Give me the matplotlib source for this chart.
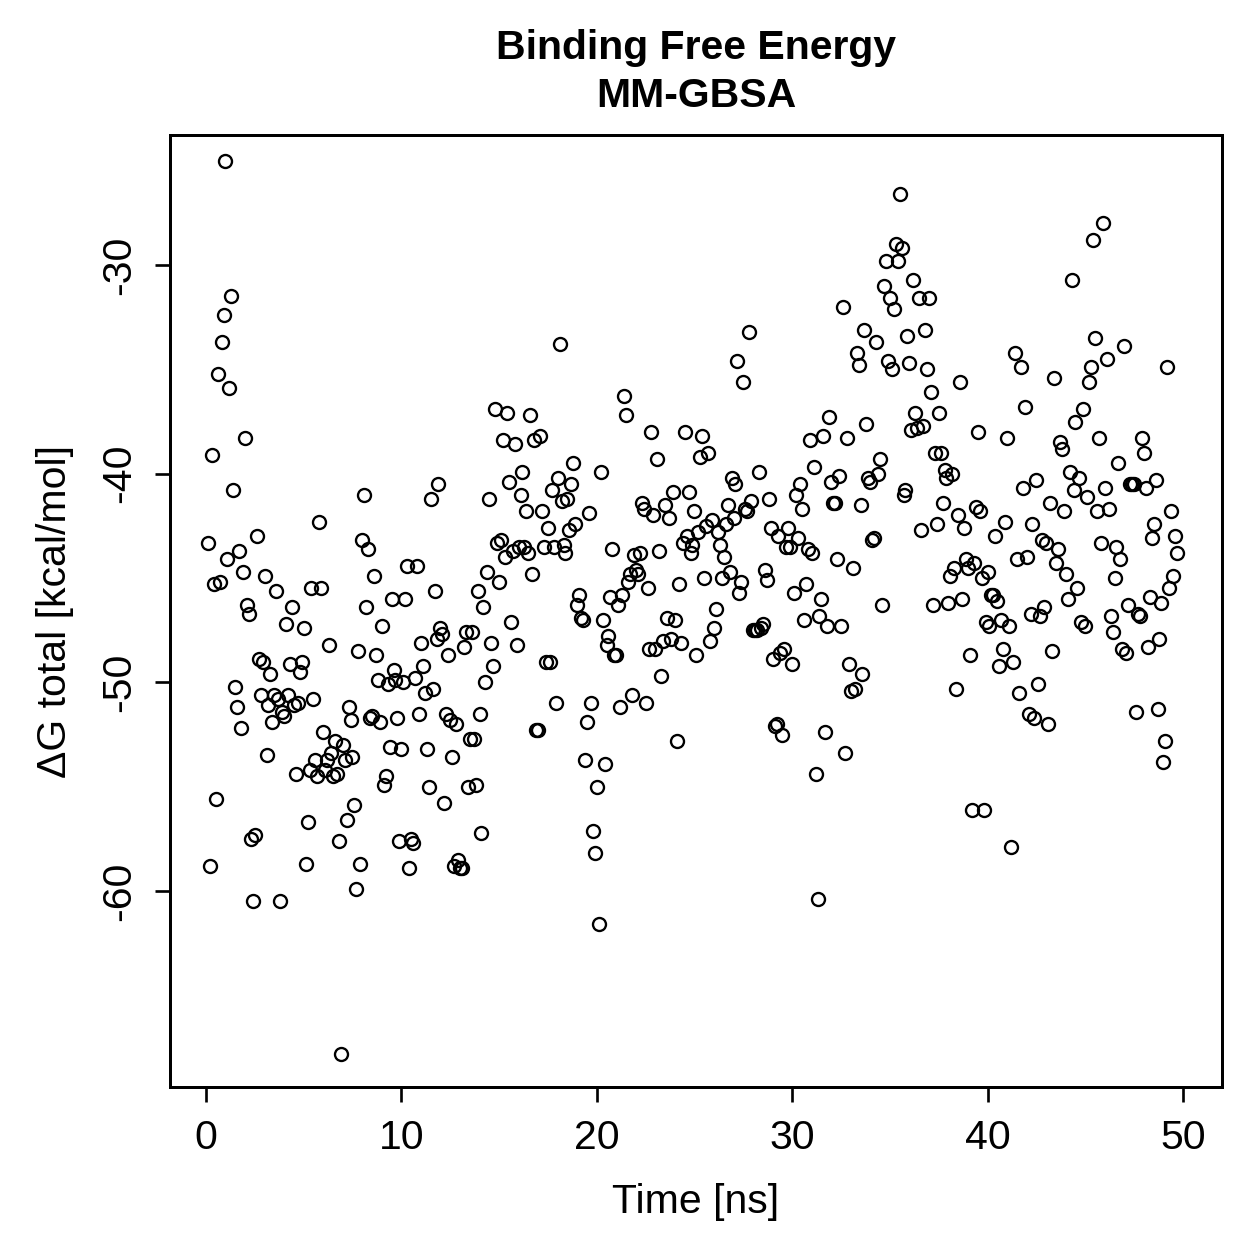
import numpy as np
import matplotlib
matplotlib.use('Agg')
import matplotlib.pyplot as plt

# MM-GBSA total binding free energy per frame (kcal/mol), frames every 0.1 ns
dG = [
    -43.3, -58.8, -39.1, -45.3, -55.6, -35.2, -45.2, -33.7, -32.4, -25.0,
    -44.1, -35.9, -31.5, -40.8, -50.2, -51.2, -43.7, -52.2, -44.7, -38.3,
    -46.3, -46.7, -57.5, -60.5, -57.3, -43.0, -48.9, -50.6, -49.0, -44.9,
    -53.5, -51.1, -49.6, -51.9, -50.6, -45.6, -50.8, -60.5, -51.4, -51.6,
    -47.2, -50.6, -49.1, -46.4, -51.1, -54.4, -51.0, -49.5, -49.0, -47.4,
    -58.7, -56.7, -54.2, -45.5, -50.8, -53.7, -54.5, -42.3, -45.5, -52.4,
    -54.2, -53.7, -48.2, -53.4, -54.5, -52.8, -54.4, -57.6, -67.8, -53.0,
    -53.7, -56.6, -51.2, -51.8, -53.6, -55.9, -59.9, -48.5, -58.7, -43.2,
    -41.0, -46.4, -43.6, -51.7, -51.6, -44.9, -48.7, -49.9, -51.9, -47.3,
    -54.9, -54.5, -50.1, -53.1, -46.0, -49.4, -49.9, -51.7, -57.6, -53.2,
    -50.0, -46.0, -44.4, -58.9, -57.5, -57.7, -49.8, -44.4, -51.5, -48.1,
    -49.2, -50.5, -53.2, -55.0, -41.2, -50.3, -45.6, -47.9, -40.5, -47.4,
    -47.7, -55.8, -51.5, -48.7, -51.8, -53.6, -58.8, -52.0, -58.5, -58.9,
    -58.9, -48.3, -47.6, -55.0, -52.7, -47.6, -52.7, -54.9, -45.6, -51.5,
    -57.2, -46.4, -50.0, -44.7, -41.2, -48.1, -49.2, -36.9, -43.3, -45.2,
    -43.2, -38.4, -44.0, -37.1, -40.4, -47.1, -43.7, -38.6, -48.2, -43.5,
    -41.0, -39.9, -43.5, -41.8, -43.8, -37.2, -44.8, -38.4, -52.3, -52.3,
    -38.2, -41.8, -43.5, -49.0, -42.6, -49.0, -40.8, -43.5, -51.0, -40.2,
    -33.8, -41.3, -43.4, -43.8, -41.2, -42.7, -40.5, -39.5, -42.4, -46.3,
    -45.8, -46.9, -47.0, -53.7, -51.9, -41.9, -51.0, -57.1, -58.2, -55.0,
    -61.6, -39.9, -47.0, -53.9, -48.2, -47.8, -45.9, -43.6, -48.7, -48.7,
    -46.3, -51.2, -45.8, -36.3, -37.2, -45.2, -44.8, -50.6, -43.9, -44.6,
    -44.8, -43.8, -41.4, -41.7, -51.0, -45.5, -48.4, -38.0, -42.0, -48.4,
    -39.3, -43.7, -49.7, -48.0, -41.5, -46.9, -42.1, -47.9, -40.9, -47.0,
    -52.8, -45.3, -48.1, -43.3, -38.0, -43.0, -40.9, -43.8, -43.4, -41.8,
    -48.7, -42.8, -39.2, -38.2, -45.0, -42.5, -39.0, -48.0, -42.2, -47.4,
    -46.5, -42.8, -43.4, -45.0, -44.0, -42.4, -41.5, -44.7, -40.2, -42.1,
    -40.5, -34.6, -45.7, -45.2, -35.6, -41.7, -41.8, -33.2, -41.3, -47.5,
    -47.5, -47.5, -39.9, -47.4, -47.2, -44.6, -45.1, -41.2, -42.6, -48.9,
    -52.1, -52.0, -43.0, -48.6, -52.5, -48.4, -43.5, -42.6, -43.5, -49.1,
    -45.7, -41.0, -43.1, -40.5, -41.7, -47.0, -45.3, -43.6, -38.4, -43.8,
    -39.7, -54.4, -60.4, -46.8, -46.0, -38.2, -52.4, -47.3, -37.3, -40.4,
    -41.4, -41.4, -44.1, -40.1, -47.3, -32.0, -53.4, -38.3, -49.1, -50.4,
    -44.5, -50.3, -34.2, -34.8, -41.5, -49.6, -33.1, -37.6, -40.2, -40.4,
    -43.2, -43.1, -33.7, -40.0, -39.3, -46.3, -31.0, -29.8, -34.6, -31.6,
    -35.0, -32.1, -29.0, -29.8, -26.6, -29.2, -41.0, -40.8, -33.4, -34.7,
    -37.9, -30.7, -37.1, -37.8, -31.6, -42.7, -37.7, -33.1, -35.0, -31.6,
    -36.1, -46.3, -39.0, -42.4, -37.1, -39.0, -41.4, -39.8, -40.2, -46.2,
    -44.9, -40.0, -44.5, -50.3, -42.0, -35.6, -46.0, -42.6, -44.1, -44.5,
    -48.7, -56.1, -44.3, -41.6, -38.0, -41.8, -45.0, -56.1, -47.1, -44.7,
    -47.3, -45.8, -45.8, -43.0, -46.1, -49.2, -47.0, -48.4, -42.3, -38.3,
    -47.3, -57.9, -49.0, -34.2, -44.1, -50.5, -34.9, -40.7, -36.8, -44.0,
    -51.5, -46.7, -42.4, -51.7, -40.3, -50.1, -46.8, -43.2, -46.4, -43.3,
    -52.0, -41.4, -48.5, -35.4, -44.3, -43.6, -38.5, -38.8, -41.8, -44.8,
    -46.0, -39.9, -30.7, -40.8, -37.5, -45.5, -40.2, -47.1, -36.9, -47.3,
    -41.1, -35.6, -34.9, -28.8, -33.5, -41.8, -38.3, -43.3, -28.0, -40.7,
    -34.5, -41.7, -46.8, -47.6, -45.0, -43.5, -39.5, -44.1, -48.4, -33.9,
    -48.6, -46.3, -40.5, -40.5, -40.5, -51.4, -46.7, -46.8, -38.3, -39.0,
    -40.7, -48.3, -45.9, -43.1, -42.4, -40.3, -51.3, -47.9, -46.2, -53.8,
    -52.8, -34.9, -45.5, -41.8, -44.9, -43.0, -43.8,
]
frame_step_ns = 0.1
time_ns = np.arange(1, len(dG) + 1) * frame_step_ns

plt.rcParams['font.family'] = ['Liberation Sans', 'DejaVu Sans']
plt.rcParams['axes.unicode_minus'] = False  # R prints a plain hyphen

W = H = 1259
dpi = 240
fs = 12.3
fig = plt.figure(figsize=(W / dpi, H / dpi), dpi=dpi)
ax = fig.add_axes([170 / W, 1 - 1087 / H, (1222 - 170) / W, (1087 - 135) / H])

ax.plot(time_ns, dG, 'o', mfc='none', mec='black', ms=3.9, mew=0.7)

ax.set_xlim(-1.84, 52.0)
ax.set_ylim(-69.39, -23.77)
ax.set_xticks([0, 10, 20, 30, 40, 50])
ax.set_yticks([-60, -50, -40, -30])
for lbl in ax.get_yticklabels():
    lbl.set_rotation(90)
    lbl.set_va('center')
ax.tick_params(direction='out', length=4.5, width=0.8, labelsize=fs, pad=5)
for s in ax.spines.values():
    s.set_linewidth(0.9)

ax.set_xlabel('Time [ns]', fontsize=fs, labelpad=8)
ax.set_ylabel('ΔG total [kcal/mol]', fontsize=fs, labelpad=8)
ax.set_title('Binding Free Energy\nMM-GBSA', fontsize=fs, fontweight='bold', pad=8.5,
             linespacing=1.33)

fig.savefig('out.png', dpi=dpi)
